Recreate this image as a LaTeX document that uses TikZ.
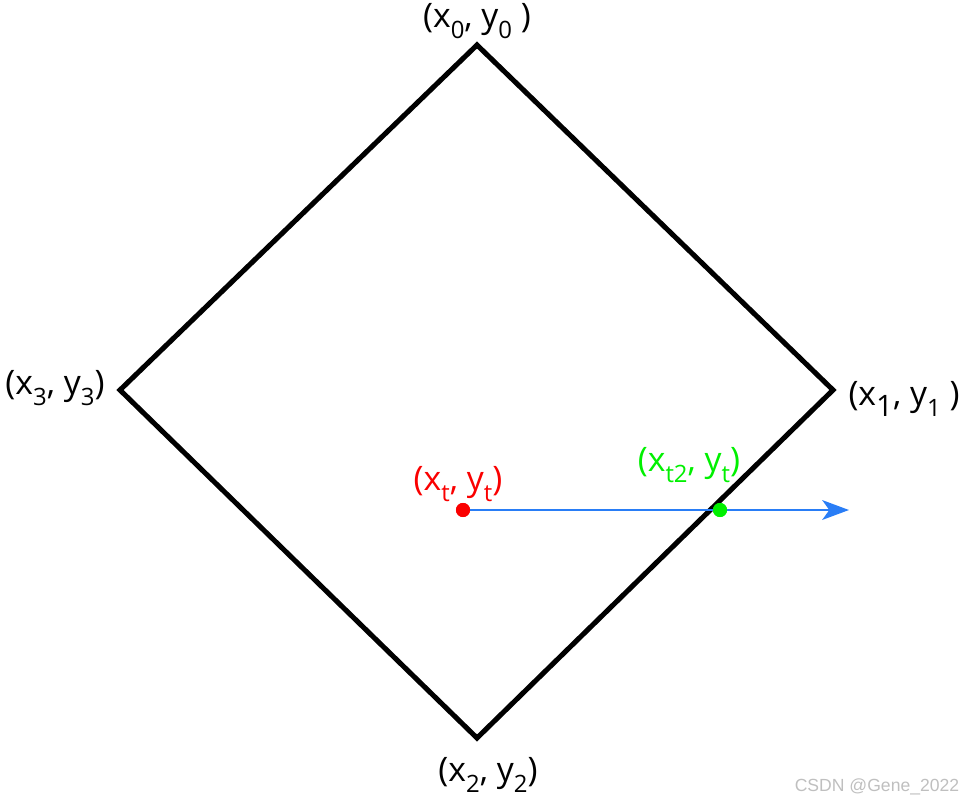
\documentclass[tikz,border=0pt]{standalone}
\usepackage{fontspec}
\setmainfont{Open Sans}
\newfontfamily\markfont{Liberation Sans}
\usepackage{tikz}
\usetikzlibrary{arrows.meta,positioning}
\definecolor{rayblue}{RGB}{41,125,246}
\definecolor{hitgreen}{RGB}{0,240,0}
\definecolor{startred}{RGB}{250,0,0}
\newcommand{\lo}[1]{\raisebox{-0.6ex}{\fontsize{17}{17}\selectfont #1}}
\tikzset{
  corner/.style={font=\fontsize{24}{26}\selectfont,inner sep=1pt},
  dotpt/.style={circle,inner sep=0pt,minimum size=10pt},
}

\begin{document}
\begin{tikzpicture}[x=0.025cm,y=-0.025cm]
        \useasboundingbox (0,0) rectangle (964,804);
        % corners of the square
        \coordinate (v0) at (477,45);
        \coordinate (v1) at (833,390);
        \coordinate (v2) at (477,738);
        \coordinate (v3) at (120,390);
        \draw[line width=3.6pt,miter limit=10] (v0) -- (v1) -- (v2) -- (v3) -- cycle;
        \node[corner] (l0) at (477,21) {(x\lo{0}, y\lo{0} )};
        \node[corner] (l1) at (904,399) {(x\lo{\fontsize{21}{21}\selectfont 1}, y\lo{1} )};
        \node[corner] (l2) at (488,775) {(x\lo{2}, y\lo{2})};
        \node[corner] (l3) at (55,388) {(x\lo{3}, y\lo{3})};
        % ray
        \node[dotpt,fill=startred] (pt) at (463,510) {};
        \node[dotpt,fill=hitgreen] (pt2) at (720,510) {};
        \coordinate (rayend) at (849,510);
        \draw[rayblue,line width=2pt,-{Stealth[length=19pt,width=14pt,inset=5pt]}] (pt.center) -- (rayend);
        \node[dotpt,fill=startred] at (pt) {};
        \node[dotpt,fill=hitgreen] at (pt2) {};
        \node[corner,startred] (lt) at (458,484) {(x\lo{t}, y\lo{t})};
        \node[corner,hitgreen] (lt2) at (689,465) {(x\lo{t2}, y\lo{t})};
        \node[font=\markfont\fontsize{12.5}{14}\selectfont,gray!50] (mark) at (877,787) {CSDN @Gene\_2022};
      \end{tikzpicture}
\end{document}
